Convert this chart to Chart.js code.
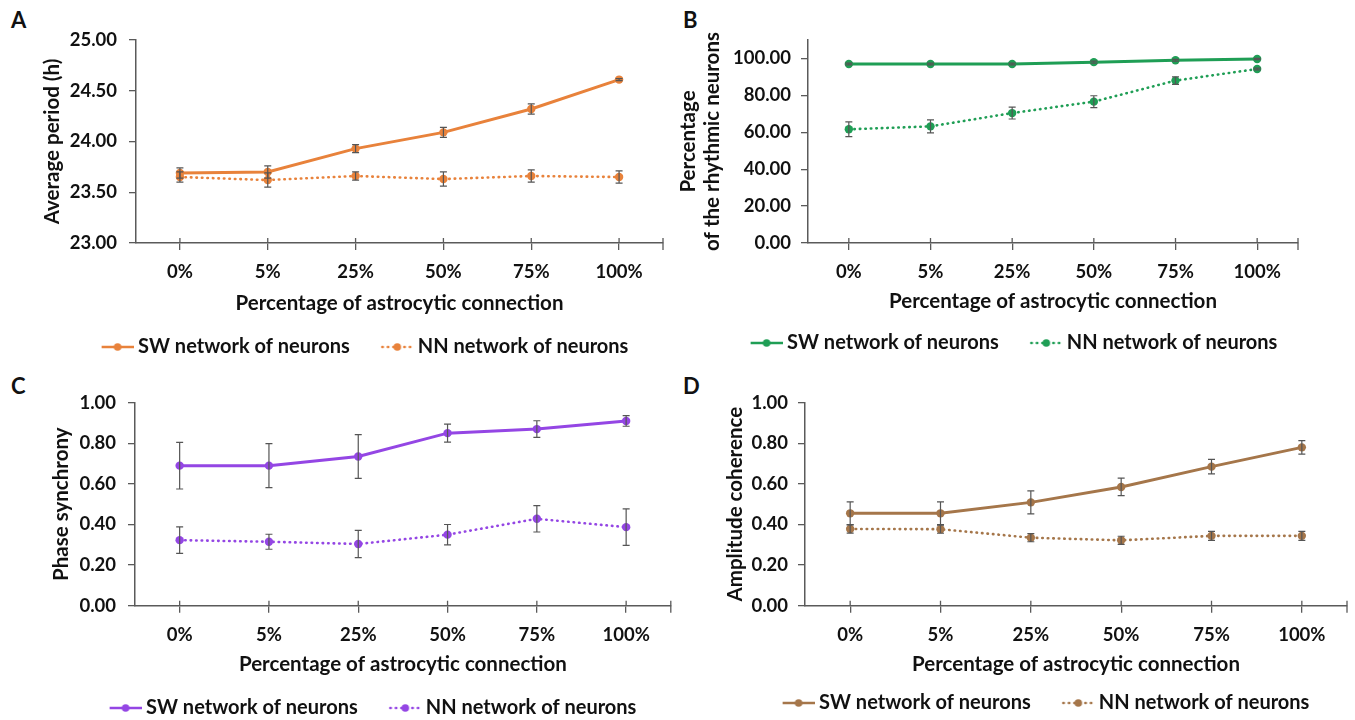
<!DOCTYPE html>
<html lang="en">
<head>
<meta charset="UTF-8">
<title>Astrocytic connection and neuronal networks</title>
<script src="https://cdn.jsdelivr.net/npm/chart.js@4.4.0/dist/chart.umd.min.js"></script>
<style>
  html, body { margin: 0; padding: 0; background: #fff; overflow: hidden; }
  body { width: 1355px; height: 720px; position: relative; }
  .panel { position: absolute; }
  .letter { position: absolute; font: bold 22px Lato, sans-serif; color: #111; }
</style>
</head>
<body>
<div class="letter" style="left:11px;top:6px">A</div>
<div class="letter" style="left:683px;top:6px">B</div>
<div class="letter" style="left:11px;top:372px">C</div>
<div class="letter" style="left:683px;top:372px">D</div>

<canvas id="chartA" class="panel" style="left:0;top:0"></canvas>
<canvas id="chartB" class="panel" style="left:675px;top:0"></canvas>
<canvas id="chartC" class="panel" style="left:0;top:360px"></canvas>
<canvas id="chartD" class="panel" style="left:675px;top:360px"></canvas>

<script>
// ---- data ----
const categories = ['0%', '5%', '25%', '50%', '75%', '100%'];
const seriesNames = ['SW network of neurons', 'NN network of neurons'];

// A: average period (h)
const periodSW = [23.69, 23.70, 23.93, 24.09, 24.32, 24.61];
const periodSWErr = [0.05, 0.06, 0.04, 0.05, 0.05, 0.01];
const periodNN = [23.65, 23.62, 23.66, 23.63, 23.66, 23.65];
const periodNNErr = [0.05, 0.07, 0.04, 0.07, 0.06, 0.06];
const periodTicks = [23.0, 23.5, 24.0, 24.5, 25.0];

// B: percentage of rhythmic neurons
const rhythmicSW = [97.0, 97.0, 97.0, 98.0, 99.0, 99.7];
const rhythmicSWErr = [0.5, 0.5, 0.5, 0.5, 0.5, 0.3];
const rhythmicNN = [61.6, 63.2, 70.4, 76.6, 88.0, 94.3];
const rhythmicNNErr = [4.0, 3.5, 3.2, 3.2, 2.0, 0.5];
const rhythmicTicks = [0, 20, 40, 60, 80, 100];

// C: phase synchrony
const phaseSW = [0.69, 0.69, 0.735, 0.85, 0.87, 0.91];
const phaseSWErr = [0.115, 0.108, 0.108, 0.044, 0.041, 0.026];
const phaseNN = [0.323, 0.315, 0.304, 0.35, 0.428, 0.387];
const phaseNNErr = [0.065, 0.037, 0.067, 0.05, 0.065, 0.09];

// D: amplitude coherence
const ampSW = [0.455, 0.455, 0.509, 0.585, 0.685, 0.78];
const ampSWErr = [0.056, 0.056, 0.057, 0.043, 0.036, 0.033];
const ampNN = [0.378, 0.377, 0.335, 0.322, 0.344, 0.344];
const ampNNErr = [0.02, 0.02, 0.02, 0.02, 0.022, 0.022];
const unitTicks = [0, 0.2, 0.4, 0.6, 0.8, 1.0];

// ---- styling ----
const FONT = 'Lato, "Open Sans", sans-serif';
const AXIS = '#5a5a5a';
const TEXT = '#111';
const TICK_FS = 18.5, TITLE_FS = 20.5, LEG_FS = 20;
const LEG_PAD = 10;

// legend marker: short line with a dot, solid or dotted
function legendMarker(color, dotted) {
  const c = document.createElement('canvas');
  c.width = 59; c.height = 12;
  const g = c.getContext('2d');
  g.strokeStyle = color; g.fillStyle = color; g.lineWidth = 2.5;
  if (dotted) { g.lineCap = 'round'; g.setLineDash([0.5, 5]); }
  g.beginPath(); g.moveTo(dotted ? 28 : 27, 6); g.lineTo(59, 6); g.stroke();
  g.setLineDash([]);
  g.beginPath(); g.arc(43, 6, 3.8, 0, Math.PI * 2); g.fill();
  return c;
}

const errorBars = {
  id: 'errorBars',
  afterDatasetsDraw(chart) {
    const { ctx, scales: { y } } = chart;
    ctx.save();
    ctx.strokeStyle = '#555';
    ctx.lineWidth = 1.2;
    chart.data.datasets.forEach((ds, i) => {
      chart.getDatasetMeta(i).data.forEach((pt, j) => {
        const v = ds.data[j], e = ds.errors[j];
        const top = y.getPixelForValue(v + e), bot = y.getPixelForValue(v - e);
        ctx.beginPath();
        ctx.moveTo(pt.x, top); ctx.lineTo(pt.x, bot);
        ctx.moveTo(pt.x - 3.5, top); ctx.lineTo(pt.x + 3.5, top);
        ctx.moveTo(pt.x - 3.5, bot); ctx.lineTo(pt.x + 3.5, bot);
        ctx.stroke();
      });
    });
    ctx.restore();
  }
};

// category ticks cross the axis, plus a tick at the right end
const axisExtras = {
  id: 'axisExtras',
  afterDraw(chart) {
    const x = chart.scales.x, ctx = chart.ctx, b = chart.chartArea.bottom;
    ctx.save();
    ctx.strokeStyle = AXIS; ctx.lineWidth = 1.3;
    ctx.beginPath();
    for (let i = 0; i < x.ticks.length; i++) {
      const px = x.getPixelForTick(i);
      ctx.moveTo(px, b - 5); ctx.lineTo(px, b);
    }
    ctx.moveTo(x.right, b - 5); ctx.lineTo(x.right, b + 7);
    ctx.stroke();
    ctx.restore();
  }
};

const panels = [
  { id: 'chartA', color: '#E8823B', sw: periodSW, swErr: periodSWErr, nn: periodNN, nnErr: periodNNErr,
    yTitle: 'Average period (h)', yMin: 23, yMax: 25, yTicks: periodTicks,
    box: { w: 675, areaL: 136, areaT: 40, areaR: 663, areaB: 243, titleY: 303, legY: 347, legX: 365, yTitleX: 52, yPad: 12 } },
  { id: 'chartB', color: '#1F9E55', sw: rhythmicSW, swErr: rhythmicSWErr, nn: rhythmicNN, nnErr: rhythmicNNErr,
    yTitle: ['Percentage', 'of the rhythmic neurons'], yMin: 0, yMax: 110, yTicks: rhythmicTicks,
    box: { w: 680, areaL: 133, areaT: 40, areaR: 623, areaB: 243, titleY: 301, legY: 343, legX: 339, yTitleX: 13, yPad: 10 } },
  { id: 'chartC', color: '#9446E4', sw: phaseSW, swErr: phaseSWErr, nn: phaseNN, nnErr: phaseNNErr,
    yTitle: 'Phase synchrony', yMin: 0, yMax: 1, yTicks: unitTicks,
    box: { w: 675, areaL: 135, areaT: 42.7, areaR: 673, areaB: 245.7, titleY: 304, legY: 348, legX: 373, yTitleX: 61, yPad: 12 } },
  { id: 'chartD', color: '#A5764A', sw: ampSW, swErr: ampSWErr, nn: ampNN, nnErr: ampNNErr,
    yTitle: 'Amplitude coherence', yMin: 0, yMax: 1, yTicks: unitTicks,
    box: { w: 680, areaL: 130, areaT: 42.7, areaR: 672, areaB: 245.7, titleY: 304, legY: 343, legX: 371, yTitleX: 60, yPad: 10 } }
];

panels.forEach(p => {
  const b = p.box;
  const titleLH = TITLE_FS * 1.2;
  const legH = LEG_FS + LEG_PAD + 10;
  const legTop = b.legY - LEG_PAD - LEG_FS / 2;
  const h = Math.ceil(legTop + legH);
  const padLeft = 2 * (b.legX - 10.75) - b.areaR;

  const canvas = document.getElementById(p.id);
  canvas.width = b.w; canvas.height = h;
  canvas.style.width = b.w + 'px'; canvas.style.height = h + 'px';

  new Chart(canvas, {
    type: 'line',
    data: {
      labels: categories,
      datasets: [
        { label: seriesNames[0], data: p.sw, errors: p.swErr, borderColor: p.color, backgroundColor: p.color,
          borderWidth: 3, pointRadius: 4.2, pointBorderWidth: 0, pointBackgroundColor: p.color, tension: 0 },
        { label: seriesNames[1], data: p.nn, errors: p.nnErr, borderColor: p.color, backgroundColor: p.color,
          borderWidth: 2.6, borderDash: [0.5, 5], borderCapStyle: 'round',
          pointRadius: 4.2, pointBorderWidth: 0, pointBackgroundColor: p.color, tension: 0 }
      ]
    },
    options: {
      responsive: false,
      animation: false,
      layout: { padding: { left: padLeft, top: b.areaT, right: b.w - b.areaR, bottom: h - legTop - legH } },
      plugins: {
        tooltip: { enabled: false },
        legend: {
          position: 'bottom',
          labels: {
            usePointStyle: true, pointStyleWidth: 48, padding: LEG_PAD, color: TEXT,
            font: { family: FONT, size: LEG_FS, weight: 'bold' },
            generateLabels: chart => chart.data.datasets.map((ds, i) => ({
              text: ds.label, pointStyle: legendMarker(ds.borderColor, i === 1),
              fontColor: TEXT, hidden: false, datasetIndex: i,
              lineWidth: 0, strokeStyle: 'transparent', fillStyle: 'transparent'
            }))
          }
        }
      },
      scales: {
        x: {
          offset: true,
          grid: { offset: false, drawOnChartArea: false, drawTicks: true, tickLength: 7, color: AXIS, lineWidth: 1.3 },
          border: { display: true, color: AXIS, width: 1.5 },
          ticks: { color: TEXT, padding: 11, font: { family: FONT, size: TICK_FS, weight: 'bold' } },
          title: { display: true, text: 'Percentage of astrocytic connection', color: TEXT,
                   font: { family: FONT, size: TITLE_FS, weight: 'bold', lineHeight: 1.2 },
                   padding: { top: 0, bottom: legTop - b.titleY - titleLH / 2 } },
          afterFit: s => { s.height = legTop - b.areaB; }
        },
        y: {
          min: p.yMin, max: p.yMax,
          afterBuildTicks: s => { s.ticks = p.yTicks.map(v => ({ value: v })); },
          grid: { drawOnChartArea: false, drawTicks: true, tickLength: 7, color: AXIS, lineWidth: 1.3 },
          border: { display: true, color: AXIS, width: 1.5 },
          ticks: { color: TEXT, padding: b.yPad, font: { family: FONT, size: TICK_FS, weight: 'bold' },
                   callback: v => Number(v).toFixed(2) },
          title: { display: true, text: p.yTitle, color: TEXT,
                   font: { family: FONT, size: TITLE_FS, weight: 'bold', lineHeight: 1.2 },
                   padding: { top: b.yTitleX - padLeft - titleLH / 2, bottom: 0 } },
          afterFit: s => { s.width = b.areaL - padLeft; }
        }
      }
    },
    plugins: [errorBars, axisExtras]
  });
});
</script>
</body>
</html>
